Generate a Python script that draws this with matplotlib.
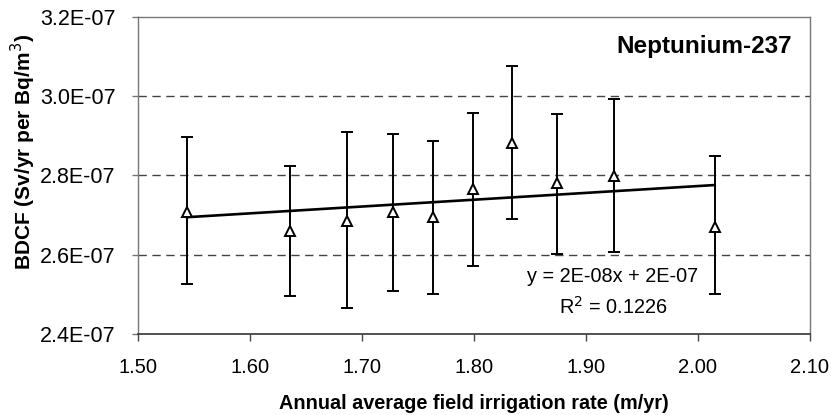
import numpy as np
import matplotlib
matplotlib.use('Agg')
import matplotlib.pyplot as plt

plt.rcParams['font.family'] = ['Liberation Sans', 'DejaVu Sans']

# irrigation rate (m/yr) and BDCF (Sv/yr per Bq/m3)
rate = [1.544, 1.636, 1.687, 1.7275, 1.764, 1.799, 1.834, 1.874, 1.925, 2.015]
bdcf = [2.709e-7, 2.661e-7, 2.686e-7, 2.708e-7, 2.695e-7,
        2.766e-7, 2.881e-7, 2.780e-7, 2.799e-7, 2.671e-7]
err_hi = [2.898e-7, 2.825e-7, 2.909e-7, 2.904e-7, 2.887e-7,
          2.957e-7, 3.076e-7, 2.954e-7, 2.993e-7, 2.850e-7]
err_lo = [2.527e-7, 2.497e-7, 2.465e-7, 2.510e-7, 2.502e-7,
          2.572e-7, 2.690e-7, 2.602e-7, 2.607e-7, 2.502e-7]

xticks = [1.50, 1.60, 1.70, 1.80, 1.90, 2.00, 2.10]
yticks = [2.4e-7, 2.6e-7, 2.8e-7, 3.0e-7, 3.2e-7]

x = np.array(rate)
y = np.array(bdcf)
yerr = [y - np.array(err_lo), np.array(err_hi) - y]

fig = plt.figure(figsize=(8.31, 4.15), dpi=100)
ax = fig.add_axes([0.1657, 0.1945, 0.809, 0.7653])

# linear trendline
m, b = np.polyfit(x, y, 1)
xl = np.array([x.min(), x.max()])
ax.plot(xl, m * xl + b, color='black', lw=1.9, zorder=3)

ax.errorbar(x, y, yerr=yerr, fmt='^', color='black', ecolor='black',
            elinewidth=1.4, capsize=4, capthick=1.4, markersize=7,
            markerfacecolor='white', markeredgecolor='black',
            markeredgewidth=1.4, zorder=4)

ax.set_xlim(1.50, 2.10)
ax.set_ylim(2.4e-7, 3.2e-7)
ax.set_xticks(xticks)
ax.set_xticklabels(['%.2f' % v for v in xticks])
ax.set_yticks(yticks)
ax.set_yticklabels(['%.1fE-07' % (v * 1e7) for v in yticks])

for v in yticks[1:-1]:
    ax.axhline(v, color='#444444', lw=1, dashes=(6, 4), zorder=1)

ax.tick_params(axis='x', direction='out', length=5, width=1, color='#444444',
               labelsize=14.5, pad=12)
ax.tick_params(axis='y', direction='out', length=4, width=1, color='#777777',
               labelsize=15.5, pad=12)
for s in ['top', 'right', 'left']:
    ax.spines[s].set_color('#777777')
    ax.spines[s].set_linewidth(1)
ax.spines['bottom'].set_color('#333333')
ax.spines['bottom'].set_linewidth(1.2)

ax.set_xlabel('Annual average field irrigation rate (m/yr)', fontsize=14.3,
              fontweight='bold', labelpad=12)
fig.text(23 / 831, 1 - 151.5 / 415, 'BDCF (Sv/yr per Bq/m$^3$)', rotation=90,
         ha='center', va='center', fontsize=15, fontweight='bold')

ax.text(0.973, 0.905, 'Neptunium-237', transform=ax.transAxes, ha='right',
        va='center', fontsize=17.5, fontweight='bold')
ax.text(0.707, 0.181, 'y = 2E-08x + 2E-07', transform=ax.transAxes,
        ha='center', va='center', fontsize=14.3)
ax.text(0.707, 0.087, 'R$^2$ = 0.1226', transform=ax.transAxes,
        ha='center', va='center', fontsize=14.3)

fig.savefig('out.png', dpi=100)
